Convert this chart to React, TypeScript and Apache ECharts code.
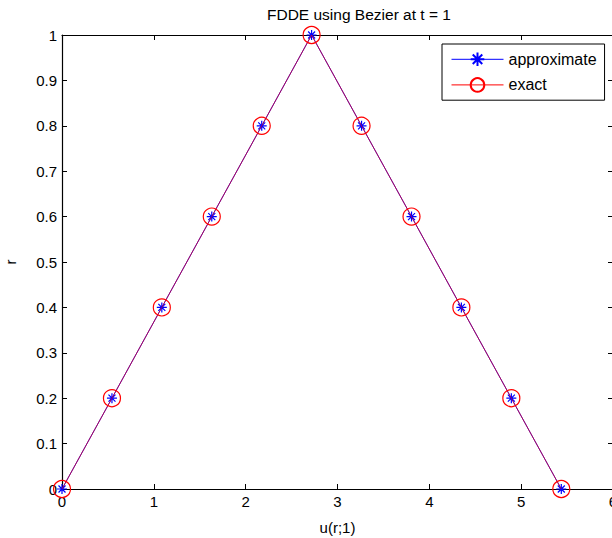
import React, { useEffect, useRef } from "react";
import * as echarts from "echarts";

const uApprox = [0, 0.544, 1.087, 1.631, 2.175, 2.718, 3.262, 3.806, 4.349, 4.893, 5.437];
const rApprox = [0, 0.2, 0.4, 0.6, 0.8, 1.0, 0.8, 0.6, 0.4, 0.2, 0];
const uExact = [0, 0.544, 1.087, 1.631, 2.175, 2.718, 3.262, 3.806, 4.349, 4.893, 5.437];
const rExact = [0, 0.2, 0.4, 0.6, 0.8, 1.0, 0.8, 0.6, 0.4, 0.2, 0];

const FONT = "Liberation Sans, Arial, sans-serif";
const ASTERISK = "path://M0,5L10,5M5,0L5,10M1.5,1.5L8.5,8.5M8.5,1.5L1.5,8.5";

export default function App() {
  const ref = useRef<HTMLDivElement>(null);
  useEffect(() => {
    document.body.style.margin = "0";
    const chart = echarts.init(ref.current!, undefined, { renderer: "svg" });
    const axisCommon = {
      type: "value" as const,
      axisLine: { show: true, onZero: false, lineStyle: { color: "#000", width: 1.2 } },
      axisTick: { show: true, inside: true, length: 5, lineStyle: { color: "#000" } },
      splitLine: { show: false },
    };
    chart.setOption({
      animation: false,
      backgroundColor: "#fff",
      title: {
        text: "FDDE using Bezier at t = 1",
        left: 262,
        top: 1,
        textStyle: { fontFamily: FONT, fontSize: 15.5, fontWeight: "normal", color: "#000" },
      },
      grid: { left: 62, top: 35, width: 551, height: 454, outerBoundsMode: "none", containLabel: false },
      legend: {
        left: 442,
        top: 44,
        orient: "vertical",
        itemWidth: 52,
        itemHeight: 17,
        itemGap: 7,
        padding: [6, 8, 6, 9],
        borderColor: "#000",
        borderWidth: 1,
        backgroundColor: "#fff",
        textStyle: { fontFamily: FONT, fontSize: 16, color: "#000" },
        lineStyle: { opacity: 1, width: 1 },
        data: ["approximate", "exact"],
      },
      xAxis: [
        {
          ...axisCommon,
          min: 0,
          max: 6,
          interval: 1,
          position: "bottom",
          name: "u(r;1)",
          nameLocation: "middle",
          nameGap: 31,
          nameTextStyle: { fontFamily: FONT, fontSize: 15, color: "#000" },
          axisLabel: { fontFamily: FONT, fontSize: 15, color: "#000", margin: 5 },
        },
        {
          ...axisCommon,
          min: 0,
          max: 6,
          interval: 1,
          position: "top",
          axisLabel: { show: false },
        },
      ],
      yAxis: [
        {
          ...axisCommon,
          min: 0,
          max: 1,
          interval: 0.1,
          position: "left",
          name: "r",
          nameLocation: "middle",
          nameGap: 44,
          nameTextStyle: { fontFamily: FONT, fontSize: 15, color: "#000" },
          axisLabel: {
            fontFamily: FONT,
            fontSize: 15,
            color: "#000",
            margin: 5,
            formatter: (v: number) => String(Math.round(v * 10) / 10),
          },
        },
        {
          ...axisCommon,
          min: 0,
          max: 1,
          interval: 0.1,
          position: "right",
          axisLabel: { show: false },
        },
      ],
      series: [
        {
          name: "approximate",
          type: "line",
          data: uApprox.map((u, i) => [u, rApprox[i]]),
          symbol: ASTERISK,
          symbolSize: 10,
          showAllSymbol: true,
          lineStyle: { color: "#0000ff", width: 1 },
          itemStyle: { color: "none", borderColor: "#0000ff", borderWidth: 1.2 },
          z: 2,
        },
        {
          name: "exact",
          type: "line",
          data: uExact.map((u, i) => [u, rExact[i]]),
          symbol: "circle",
          symbolSize: 17,
          showAllSymbol: true,
          lineStyle: { color: "#ff0000", width: 1, opacity: 0.65 },
          itemStyle: { color: "none", borderColor: "#ff0000", borderWidth: 1.2 },
          z: 3,
        },
      ],
    });
    return () => chart.dispose();
  }, []);
  return <div ref={ref} style={{ width: 612, height: 538 }} />;
}
